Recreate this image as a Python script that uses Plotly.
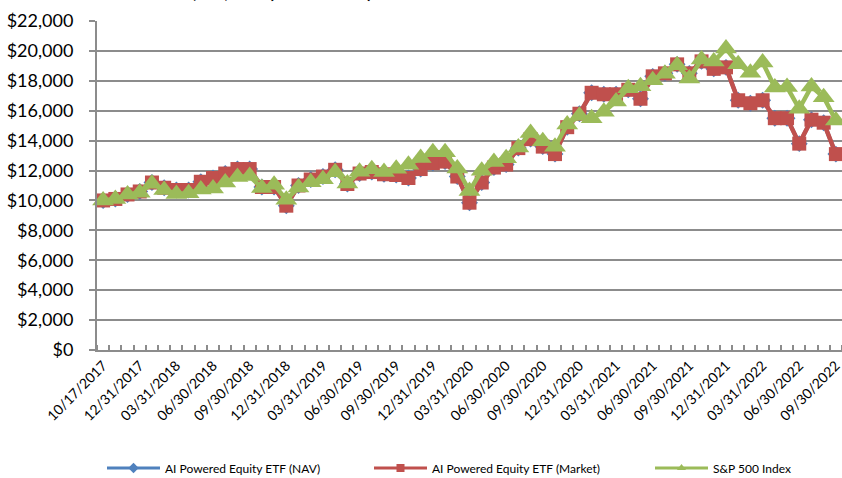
import plotly.graph_objects as go

dates = ["10/17/2017", "10/31/2017", "11/30/2017", "12/31/2017",
         "01/31/2018", "02/28/2018", "03/31/2018", "04/30/2018", "05/31/2018", "06/30/2018",
         "07/31/2018", "08/31/2018", "09/30/2018", "10/31/2018", "11/30/2018", "12/31/2018",
         "01/31/2019", "02/28/2019", "03/31/2019", "04/30/2019", "05/31/2019", "06/30/2019",
         "07/31/2019", "08/31/2019", "09/30/2019", "10/31/2019", "11/30/2019", "12/31/2019",
         "01/31/2020", "02/29/2020", "03/31/2020", "04/30/2020", "05/31/2020", "06/30/2020",
         "07/31/2020", "08/31/2020", "09/30/2020", "10/31/2020", "11/30/2020", "12/31/2020",
         "01/31/2021", "02/28/2021", "03/31/2021", "04/30/2021", "05/31/2021", "06/30/2021",
         "07/31/2021", "08/31/2021", "09/30/2021", "10/31/2021", "11/30/2021", "12/31/2021",
         "01/31/2022", "02/28/2022", "03/31/2022", "04/30/2022", "05/31/2022", "06/30/2022",
         "07/31/2022", "08/31/2022", "09/30/2022"]

market = [10000, 10100, 10400, 10600, 11200, 10850, 10700, 10700, 11250, 11500,
          11800, 12100, 12100, 10900, 10900, 9650, 11000, 11400, 11600, 12050,
          11100, 11800, 11900, 11750, 11700, 11500, 12100, 12500, 12600, 11600,
          9850, 11200, 12200, 12400, 13500, 14100, 13600, 13100, 14900, 15800,
          17200, 17100, 17100, 17400, 16800, 18300, 18500, 19100, 18500, 19300,
          18800, 18900, 16700, 16500, 16700, 15500, 15500, 13800, 15400, 15200,
          13100]

nav = [10000, 10100, 10400, 10600, 11200, 10850, 10700, 10700, 11250, 11500,
       11800, 12100, 12100, 10900, 10900, 9650, 11000, 11400, 11600, 12050,
       11100, 11800, 11900, 11750, 11700, 11500, 12100, 12500, 12600, 11600,
       9850, 11200, 12200, 12400, 13500, 14100, 13600, 13100, 14900, 15800,
       17200, 17100, 17100, 17400, 16800, 18300, 18500, 19100, 18500, 19300,
       18800, 18900, 16700, 16500, 16700, 15500, 15500, 13800, 15400, 15200,
       13100]

sp500 = [10000, 10090, 10400, 10515, 11117, 10707, 10435, 10475, 10728, 10794,
         11196, 11561, 11627, 10832, 11053, 10055, 10860, 11209, 11426, 11889,
         11134, 11919, 12091, 11900, 12122, 12385, 12835, 13222, 13217, 12129,
         10631, 11994, 12565, 12815, 13538, 14511, 13960, 13589, 15077, 15656,
         15498, 15926, 16623, 17511, 17634, 18045, 18474, 19036, 18151, 19423,
         19289, 20153, 19111, 18540, 19228, 17551, 17583, 16132, 17619, 16900,
         15344]

series_names = ["AI Powered Equity ETF (NAV)", "AI Powered Equity ETF (Market)", "S&P 500 Index"]
y_ticks = list(range(0, 22001, 2000))
label_step = 3

BLUE, RED, GREEN = "#4F81BD", "#C0504D", "#9BBB59"
GRID = "#8C8C8C"
FONT = "Lato"

idx = list(range(len(dates)))

fig = go.Figure()
fig.add_trace(go.Scatter(x=idx, y=nav, mode="lines+markers", name=series_names[0],
                         line=dict(color=BLUE, width=4),
                         marker=dict(symbol="diamond", size=13, color=BLUE),
                         showlegend=False, cliponaxis=False))
fig.add_trace(go.Scatter(x=idx, y=market, mode="lines+markers", name=series_names[1],
                         line=dict(color=RED, width=4.5),
                         marker=dict(symbol="square", size=14, color=RED),
                         showlegend=False, cliponaxis=False))
fig.add_trace(go.Scatter(x=idx, y=sp500, mode="lines+markers", name=series_names[2],
                         line=dict(color=GREEN, width=4.5),
                         marker=dict(symbol="triangle-up", size=19, color=GREEN),
                         showlegend=False, cliponaxis=False))

# legend entries (small symbols, like the original)
legend_specs = [(series_names[0], BLUE, "diamond", "legend"),
                (series_names[1], RED, "square", "legend2"),
                (series_names[2], GREEN, "triangle-up", "legend3")]
for name, color, sym, leg in legend_specs:
    fig.add_trace(go.Scatter(x=[None], y=[None], mode="lines+markers", name=name,
                             line=dict(color=color, width=3),
                             marker=dict(symbol=sym, size=8, color=color),
                             legend=leg, showlegend=True))

W, H = 842, 478
L, R, T, B = 97, 0, 21, 128
pw, ph = W - L - R, H - T - B

def px2x(p):
    return (p - L) / pw

def px2y(p):
    return (H - B - p) / ph

leg_common = dict(orientation="h", yanchor="middle", xanchor="left",
                  font=dict(family=FONT, size=12, color="#000000"),
                  itemwidth=53, bgcolor="rgba(0,0,0,0)")

fig.update_layout(
    width=W, height=H,
    margin=dict(l=L, r=R, t=T, b=B, autoexpand=False),
    paper_bgcolor="white", plot_bgcolor="white",
    font=dict(family=FONT, color="#000000"),
    legend=dict(x=px2x(102), y=px2y(468), **leg_common),
    legend2=dict(x=px2x(369), y=px2y(468), **leg_common),
    legend3=dict(x=px2x(650), y=px2y(468), **leg_common),
    annotations=[dict(text="<b>Growth of $10,000 (Unaudited)</b>", xref="paper", yref="paper",
                      x=px2x(375), y=px2y(4), xanchor="right", yanchor="bottom",
                      showarrow=False, font=dict(family=FONT, size=20, color="#000000"))],
)

fig.update_xaxes(
    range=[-0.5, len(dates) - 0.5], automargin=False,
    tickmode="array", tickvals=idx[::label_step], ticktext=dates[::label_step],
    tickangle=-45, ticks="", showgrid=False, zeroline=False,
    ticklabeloverflow="allow",
    showline=True, linecolor=GRID, linewidth=2,
    tickfont=dict(family=FONT, size=14, color="#000000"),
    minor=dict(tickmode="array", tickvals=[i - 0.5 for i in range(len(dates) + 1)],
               ticks="inside", ticklen=5, tickwidth=1.5, tickcolor=GRID, showgrid=False),
)
fig.update_yaxes(
    range=[0, 22000], automargin=False, tickmode="array", tickvals=y_ticks, tickformat="$,.0f",
    showgrid=True, gridcolor=GRID, gridwidth=2, zeroline=False,
    showline=True, linecolor=GRID, linewidth=2,
    ticks="outside", ticklen=6, tickwidth=2, tickcolor=GRID,
    ticklabelstandoff=12, ticklabeloverflow="allow",
    tickfont=dict(family=FONT, size=18, color="#000000"),
)

fig.write_html("out.html", config={"displayModeBar": False},
               post_script="document.body.style.margin='0px';")
